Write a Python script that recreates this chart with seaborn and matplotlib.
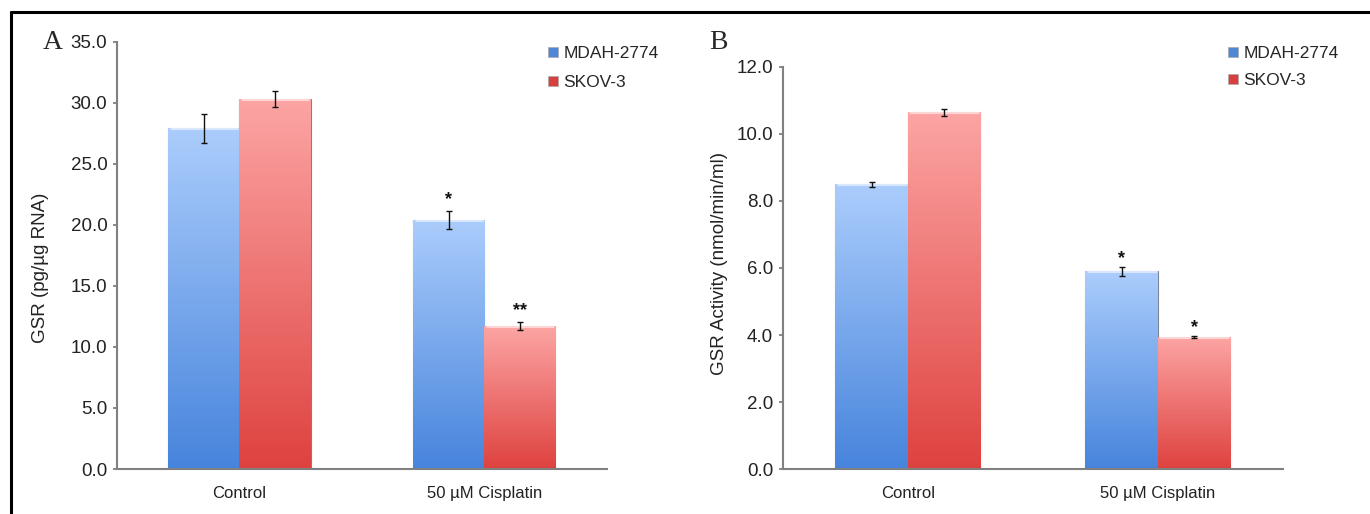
import numpy as np
import pandas as pd
import matplotlib
matplotlib.use("Agg")
import matplotlib.pyplot as plt
from matplotlib.colors import LinearSegmentedColormap
from matplotlib.lines import Line2D
import seaborn as sns

# data
treatments = ["Control", "50 \u00b5M Cisplatin"]
cell_lines = ["MDAH-2774", "SKOV-3"]

gsr_rna_mdah = [27.9, 20.4]
gsr_rna_skov = [30.3, 11.7]
gsr_rna_err_mdah = [1.2, 0.75]
gsr_rna_err_skov = [0.65, 0.35]
gsr_rna_stars_mdah = ["", "*"]
gsr_rna_stars_skov = ["", "**"]

gsr_act_mdah = [8.5, 5.9]
gsr_act_skov = [10.65, 3.95]
gsr_act_err_mdah = [0.08, 0.13]
gsr_act_err_skov = [0.1, 0.03]
gsr_act_stars_mdah = ["", "*"]
gsr_act_stars_skov = ["", "*"]

sns.set_style("white")
plt.rcParams["font.family"] = ["Liberation Sans", "DejaVu Sans"]

top_cols = {"MDAH-2774": "#abcdfc", "SKOV-3": "#fca5a4"}
bot_cols = {"MDAH-2774": "#4784dc", "SKOV-3": "#de423f"}
legend_cols = {"MDAH-2774": "#4f86d6", "SKOV-3": "#d8403f"}


def make_df(mdah, skov):
    return pd.DataFrame({
        "Treatment": treatments * 2,
        "Cell line": [cell_lines[0]] * 2 + [cell_lines[1]] * 2,
        "Value": list(mdah) + list(skov),
    })


def draw_panel(ax, df, errs, stars, ymax, ystep, ylabel, star_offsets):
    sns.barplot(data=df, x="Treatment", y="Value", hue="Cell line",
                order=treatments, hue_order=cell_lines,
                palette=legend_cols, width=0.58, errorbar=None,
                legend=False, ax=ax)
    for cont, line in zip(ax.containers, cell_lines):
        cmap = LinearSegmentedColormap.from_list(line, [top_cols[line], bot_cols[line]])
        grad = np.linspace(0, 1, 256).reshape(-1, 1)
        for i, bar in enumerate(cont):
            x0, w, h = bar.get_x(), bar.get_width(), bar.get_height()
            bar.set_edgecolor((0.35, 0.35, 0.4, 0.6))
            bar.set_linewidth(0.8)
            im = ax.imshow(grad, cmap=cmap, aspect="auto",
                           extent=[x0, x0 + w, 0, h], zorder=bar.get_zorder() + 0.1)
            im.set_clip_path(bar)
            # light highlight strip at the top of each bar
            ax.plot([x0 + w * 0.02, x0 + w * 0.98], [h, h], color="white",
                    lw=2.2, alpha=0.55, solid_capstyle="butt",
                    zorder=bar.get_zorder() + 0.2)
            cx = x0 + w / 2
            e = errs[line][i]
            ax.errorbar(cx, h, yerr=e, fmt="none", ecolor="#111111",
                        elinewidth=1.0, capsize=2.5, capthick=1.0, zorder=5)
            s = stars[line][i]
            if s:
                ax.annotate(s, (cx, h + e), xytext=(0, star_offsets),
                            textcoords="offset points", ha="center",
                            va="center", fontsize=13, fontweight="bold",
                            color="#111111")
    ax.set_xlim(-0.5, 1.5)
    ax.set_ylim(0, ymax)
    ticks = np.arange(0, ymax + ystep / 2, ystep)
    ax.set_yticks(ticks)
    ax.set_yticklabels([f"{v:.1f}" for v in ticks], fontsize=13.5, color="#222222")
    ax.set_xticks([0, 1])
    ax.set_xticklabels(treatments, fontsize=12, color="#222222")
    ax.set_xticks([-0.5, 0.5, 1.5], minor=True)
    ax.tick_params(axis="x", which="major", length=0, pad=12)
    ax.tick_params(axis="x", which="minor", length=4, width=1.3, color="#808080",
                   direction="out")
    ax.tick_params(axis="y", length=3, width=1.3, color="#808080",
                   direction="out", left=True, pad=4)
    ax.set_xlabel("")
    ax.set_ylabel(ylabel, fontsize=13.5, color="#222222")
    for side in ["top", "right"]:
        ax.spines[side].set_visible(False)
    for side in ["left", "bottom"]:
        ax.spines[side].set_color("#808080")
        ax.spines[side].set_linewidth(1.5)
    handles = [Line2D([], [], marker="s", linestyle="none", markersize=7,
                      markerfacecolor=legend_cols[c], markeredgecolor="#aaaaaa",
                      markeredgewidth=0.5) for c in cell_lines]
    return handles


fig = plt.figure(figsize=(13.7, 5.14), dpi=100)
axA = fig.add_axes([0.0854, 0.0875, 0.3576, 0.8314])
axB = fig.add_axes([0.5715, 0.0875, 0.3650, 0.7822])

hA = draw_panel(axA, make_df(gsr_rna_mdah, gsr_rna_skov),
                {"MDAH-2774": gsr_rna_err_mdah, "SKOV-3": gsr_rna_err_skov},
                {"MDAH-2774": gsr_rna_stars_mdah, "SKOV-3": gsr_rna_stars_skov},
                35, 5, "GSR (pg/\u00b5g RNA)", 8)
hB = draw_panel(axB, make_df(gsr_act_mdah, gsr_act_skov),
                {"MDAH-2774": gsr_act_err_mdah, "SKOV-3": gsr_act_err_skov},
                {"MDAH-2774": gsr_act_stars_mdah, "SKOV-3": gsr_act_stars_skov},
                12, 2, "GSR Activity (nmol/min/ml)", 6)

axA.yaxis.set_label_coords(-0.138, 0.47)
axB.yaxis.set_label_coords(-0.11, 0.51)

axA.legend(hA, cell_lines, loc="upper left", bbox_to_anchor=(0.4, 0.91),
           bbox_transform=fig.transFigure, frameon=False, fontsize=12.5,
           handlelength=0.6, handletextpad=0.3, labelspacing=0.75,
           borderaxespad=0, borderpad=0)
axB.legend(hB, cell_lines, loc="upper left", bbox_to_anchor=(0.896, 0.91),
           bbox_transform=fig.transFigure, frameon=False, fontsize=12.5,
           handlelength=0.6, handletextpad=0.3, labelspacing=0.65,
           borderaxespad=0, borderpad=0)

fig.text(0.031, 0.918, "A", fontsize=20, family="Liberation Serif", va="center")
fig.text(0.518, 0.918, "B", fontsize=20, family="Liberation Serif", va="center")

# frame lines of the original figure panel
fig.add_artist(Line2D([0.008, 1.0], [0.977, 0.977], color="black", lw=2.2,
                      transform=fig.transFigure))
fig.add_artist(Line2D([0.008, 0.008], [0.0, 0.977], color="black", lw=2.2,
                      transform=fig.transFigure))

fig.savefig("out.png", dpi=100)
